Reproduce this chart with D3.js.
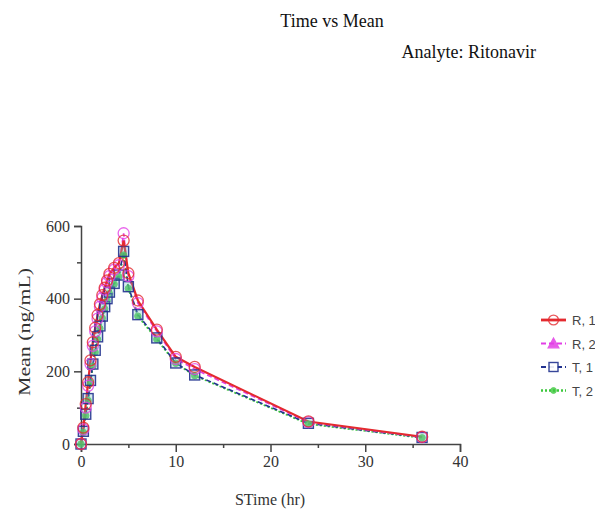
<!DOCTYPE html>
<html><head><meta charset="utf-8">
<script src="https://cdn.jsdelivr.net/npm/d3@7"></script>
<style>body{margin:0;background:#fff}svg{display:block}</style>
</head><body>
<svg id="c" width="595" height="515"></svg>
<script>
const times = [0,0.25,0.5,0.75,1,1.25,1.5,1.75,2,2.25,2.5,2.75,3,3.5,4,4.5,5,6,8,10,12,24,36];
const R1 = [0,45,110,170,230,280,320,355,385,410,430,450,468,485,498,560,470,395,315,240,212,62,20];
const R2 = [0,40,100,160,220,270,310,345,378,402,425,445,462,480,492,580,462,388,310,234,206,60,19];
const T1 = [0,35,82,125,175,220,258,295,325,352,378,400,418,442,465,530,433,356,292,223,190,57,18];
const T2 = [0,32,78,120,168,214,252,288,318,346,372,395,414,440,460,520,428,352,288,222,188,55,17];
const seriesNames = ["R, 1","R, 2","T, 1","T, 2"];
const xTicks = [0,10,20,30,40];
const yTicks = [0,200,400,600];

const svg = d3.select("#c");
const font = "'Liberation Serif', 'Times New Roman', serif";
const x = d3.scaleLinear().domain([0,40]).range([81,460]);
const y = d3.scaleLinear().domain([0,600]).range([444,226]);

const styles = [
  {name:seriesNames[0], data:R1, color:"#e42a2f", dash:null, width:2.2, marker:"circle"},
  {name:seriesNames[1], data:R2, color:"#e23ee6", dash:"5,3", width:1.6, marker:"ring"},
  {name:seriesNames[2], data:T1, color:"#22338f", dash:"5,3", width:1.6, marker:"square"},
  {name:seriesNames[3], data:T2, color:"#3cc83c", dash:"2,2", width:1.8, marker:"dot"}
];

// titles
svg.append("text").attr("x",332).attr("y",27).attr("text-anchor","middle")
  .attr("font-family",font).attr("font-size",18).attr("fill","#111").text("Time vs Mean");
svg.append("text").attr("x",536).attr("y",58).attr("text-anchor","end")
  .attr("font-family",font).attr("font-size",18).attr("fill","#111").text("Analyte: Ritonavir");

// axes
svg.append("g").attr("transform","translate(0,444)")
  .call(d3.axisBottom(x).tickValues(xTicks).tickSize(8).tickPadding(4).tickFormat(d3.format("d")));
svg.append("g").attr("transform","translate(0,444)")
  .call(d3.axisBottom(x).tickValues([5,15,25,35]).tickSize(4).tickFormat(""))
  .select(".domain").remove();
svg.append("g").attr("transform","translate(81,0)")
  .call(d3.axisLeft(y).tickValues(yTicks).tickSize(7).tickPadding(4).tickFormat(d3.format("d")));
svg.append("g").attr("transform","translate(81,0)")
  .call(d3.axisLeft(y).tickValues([100,300,500]).tickSize(4).tickFormat(""))
  .select(".domain").remove();
svg.selectAll(".domain").attr("stroke","#444").attr("stroke-width",1.5);
svg.selectAll(".tick line").attr("stroke","#444").attr("stroke-width",1.5);
svg.selectAll(".tick text").attr("font-family",font).attr("font-size",16).attr("fill","#333");

svg.append("text").attr("x",270).attr("y",505).attr("text-anchor","middle")
  .attr("font-family",font).attr("font-size",16).attr("fill","#333").text("STime (hr)");
svg.append("text").attr("transform","translate(30,332) rotate(-90)").attr("text-anchor","middle")
  .attr("font-family",font).attr("font-size",16).attr("fill","#333")
  .attr("textLength",128).attr("lengthAdjust","spacingAndGlyphs").text("Mean (ng/mL)");

function drawMarker(g, type, cx, cy, color, size, legend){
  if(type==="circle" || type==="ring"){
    g.append("circle").attr("cx",cx).attr("cy",cy).attr("r",size*0.55)
      .attr("fill","none").attr("stroke",color).attr("stroke-width",1.3).attr("opacity",0.8);
  } else if(type==="triangle"){
    const s=size*0.6;
    g.append("path").attr("d",`M${cx},${cy-s}L${cx+s},${cy+s*0.8}L${cx-s},${cy+s*0.8}Z`)
      .attr("fill",color).attr("stroke",color).attr("stroke-width",1.2).attr("opacity",0.85);
  } else if(type==="square"){
    const s=size*0.5;
    g.append("rect").attr("x",cx-s).attr("y",cy-s).attr("width",2*s).attr("height",2*s)
      .attr("fill", legend?"#fff":"rgba(120,190,200,0.35)").attr("stroke",color).attr("stroke-width",1.4).attr("opacity",0.9);
  } else {
    g.append("circle").attr("cx",cx).attr("cy",cy).attr("r",size*0.32)
      .attr("fill",color).attr("stroke",color).attr("stroke-width",1).attr("opacity",0.8);
  }
}

const line = d3.line().x((d,i)=>x(times[i])).y(d=>y(d));
const order = [3,2,1,0];
order.forEach(k=>{
  const s = styles[k];
  svg.append("path").datum(s.data).attr("d",line).attr("fill","none")
    .attr("stroke",s.color).attr("stroke-width",s.width).attr("stroke-dasharray",s.dash);
});
order.forEach(k=>{
  const s = styles[k];
  const g = svg.append("g");
  s.data.forEach((v,i)=>drawMarker(g, s.marker, x(times[i]), y(v), s.color, 10, false));
});

// legend
const lg = svg.append("g");
styles.forEach((s,i)=>{
  const ly = 320 + i*23.5;
  lg.append("line").attr("x1",541).attr("x2",566).attr("y1",ly).attr("y2",ly)
    .attr("stroke",s.color).attr("stroke-width",s.width+0.6).attr("stroke-dasharray",s.dash);
  drawMarker(lg, i===1?"triangle":s.marker, 553.5, ly, s.color, 9, true);
  lg.append("text").attr("x",572).attr("y",ly+5).attr("font-family","'Liberation Sans', Arial, sans-serif")
    .attr("font-size",13).attr("fill","#444").text(s.name);
});
</script>
</body></html>
